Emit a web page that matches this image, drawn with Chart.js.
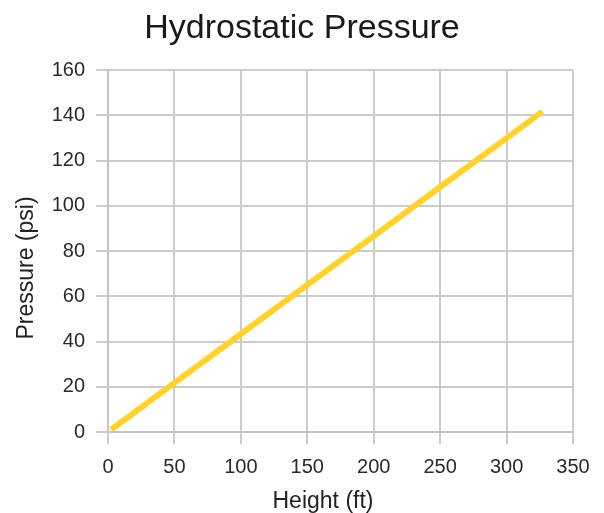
<!DOCTYPE html>
<html>
<head>
<meta charset="utf-8">
<script src="https://cdn.jsdelivr.net/npm/chart.js@4/dist/chart.umd.min.js"></script>
<style>
  html, body { margin: 0; padding: 0; background: #fff; }
  #wrap { width: 604px; height: 513px; }
</style>
</head>
<body>
<div id="wrap"><canvas id="c" width="604" height="513"></canvas></div>
<script>
const heights = [2.3, 50, 100, 150, 200, 250, 300, 327];
const pressures = [1, 21.7, 43.3, 65, 86.6, 108.3, 129.9, 141.6];
const xTicks = [0, 50, 100, 150, 200, 250, 300, 350];
const yTicks = [0, 20, 40, 60, 80, 100, 120, 140, 160];
const chartTitle = 'Hydrostatic Pressure';
const xTitle = 'Height (ft)';
const yTitle = 'Pressure (psi)';

const points = heights.map((h, i) => ({ x: h, y: pressures[i] }));
const FONT = "'Liberation Sans', Arial, sans-serif";

// Draws the two axis titles (space for them is reserved by the scales' afterFit)
const axisTitles = {
  id: 'axisTitles',
  afterDraw(chart) {
    const ctx = chart.ctx;
    ctx.save();
    ctx.fillStyle = '#222';
    ctx.font = "23px " + FONT;
    ctx.textAlign = 'center';
    ctx.textBaseline = 'alphabetic';
    ctx.fillText(xTitle, 323, 508);
    ctx.translate(33, 268);
    ctx.rotate(-Math.PI / 2);
    ctx.fillText(yTitle, 0, 0);
    ctx.restore();
  }
};

new Chart(document.getElementById('c'), {
  type: 'scatter',
  data: {
    datasets: [{
      data: points,
      showLine: true,
      borderColor: '#FFD22E',
      borderWidth: 6,
      pointRadius: 0,
      pointHoverRadius: 0,
      tension: 0,
      borderCapStyle: 'butt'
    }]
  },
  plugins: [axisTitles],
  options: {
    responsive: false,
    devicePixelRatio: 1,
    animation: false,
    layout: { padding: { left: 0, right: 0, top: 0, bottom: 0 } },
    plugins: {
      legend: { display: false },
      tooltip: { enabled: false },
      title: {
        display: true,
        text: chartTitle,
        color: '#1a1a1a',
        font: { family: FONT, size: 34, weight: 'normal' },
        padding: { top: 8.5, bottom: 20.7 }
      }
    },
    scales: {
      x: {
        type: 'linear',
        min: 0, max: 350,
        afterBuildTicks: (s) => { s.ticks = xTicks.map(v => ({ value: v })); },
        afterFit: (s) => { s.height = 81; },
        grid: { color: '#cccccc', lineWidth: 2, tickLength: 12, drawTicks: true },
        border: { color: '#c4c4c4', width: 2 },
        ticks: { color: '#2a2a2a', font: { family: FONT, size: 20 }, padding: 11, maxRotation: 0 },
        title: { display: false }
      },
      y: {
        type: 'linear',
        min: 0, max: 160,
        afterBuildTicks: (s) => { s.ticks = yTicks.map(v => ({ value: v })); },
        afterFit: (s) => { s.width = 108; },
        grid: { color: '#cccccc', lineWidth: 2, tickLength: 12, drawTicks: true },
        border: { color: '#c4c4c4', width: 2 },
        ticks: { color: '#2a2a2a', font: { family: FONT, size: 20 }, padding: 11 },
        title: { display: false }
      },
      yRight: {
        type: 'linear',
        position: 'right',
        display: true,
        afterFit: (s) => { s.width = 31; },
        grid: { display: false, drawTicks: false },
        border: { display: false },
        ticks: { display: false }
      }
    }
  }
});
</script>
</body>
</html>
